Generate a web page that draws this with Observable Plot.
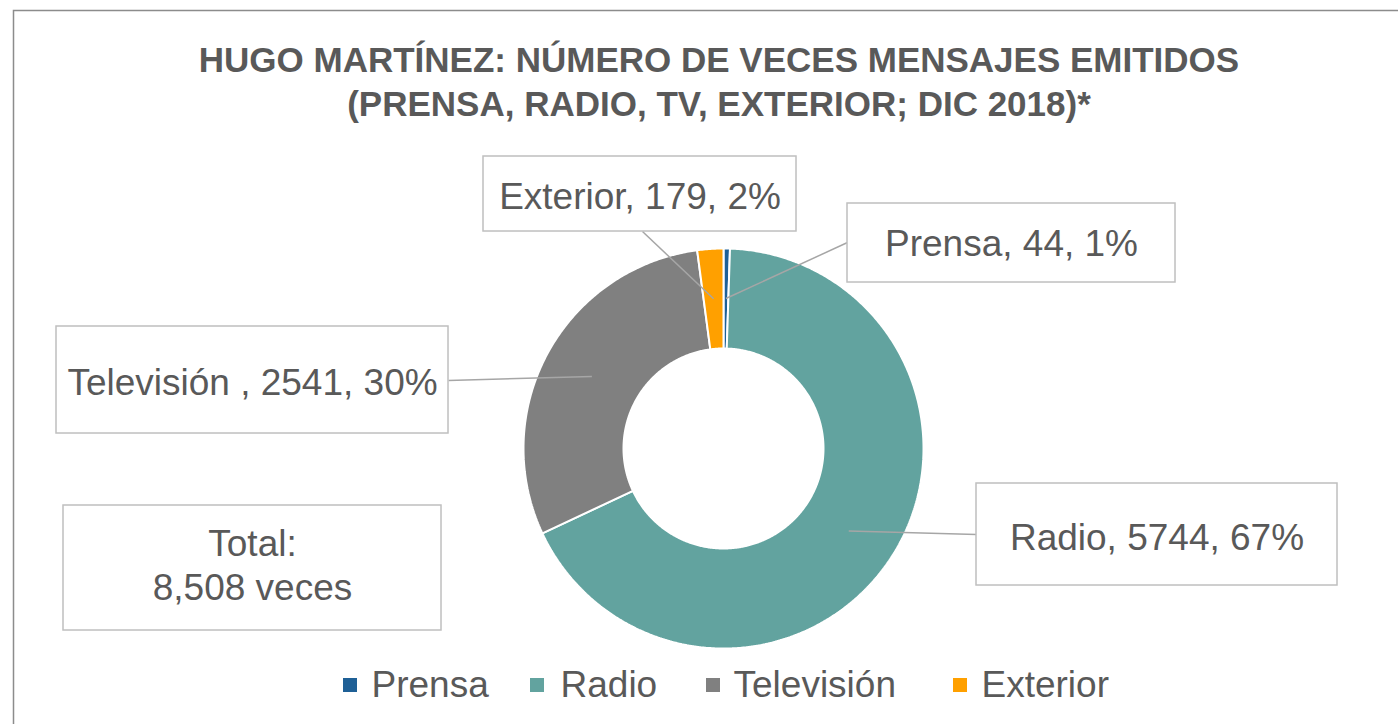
<!DOCTYPE html>
<html>
<head>
<meta charset="utf-8">
<script src="https://cdn.jsdelivr.net/npm/d3@7"></script>
<script src="https://cdn.jsdelivr.net/npm/@observablehq/plot@0.6"></script>
<style>
  body { margin: 0; background: #fff; }
  #chart svg { display: block; }
</style>
</head>
<body>
<div id="chart"></div>
<script>
// ---- data ----
const categories = ["Prensa", "Radio", "Televisión ", "Exterior"];
const values = [44, 5744, 2541, 179];
const percentLabels = ["1%", "67%", "30%", "2%"];
const totalLabel = ["Total:", "8,508 veces"];
const titleLines = ["HUGO MARTÍNEZ: NÚMERO DE VECES MENSAJES EMITIDOS", "(PRENSA, RADIO, TV, EXTERIOR; DIC 2018)*"];

// ---- styles / layout ----
const colors = ["#1f6096", "#62a39f", "#808080", "#ffa000"];
const textColor = "#595959";
const font = "'Liberation Sans', Arial, sans-serif";
const ring = {cx: 723, cy: 448, rOuter: 200, rInner: 100, rLabel: 150};
const labelBoxes = [
  {x1: 847, x2: 1175, y1: 203, y2: 282, tx: 1011, ty: 244, ax: 847, ay: 242},
  {x1: 976, x2: 1337, y1: 483, y2: 585, tx: 1156.5, ty: 538, ax: 976, ay: 534},
  {x1: 56, x2: 448, y1: 326, y2: 433, tx: 252, ty: 383, ax: 448, ay: 380},
  {x1: 483, x2: 796, y1: 156, y2: 231, tx: 639.5, ty: 197, ax: 642, ay: 231}
];
const totalBox = {x1: 63, x2: 441, y1: 505, y2: 630, tx: 252, ty: 563};
const legendPos = [{sx: 343, tx: 371}, {sx: 530, tx: 560}, {sx: 706, tx: 733}, {sx: 953, tx: 981}];
const legendY = {y1: 678, y2: 692, ty: 685, size: 14};
const frameBox = {x1: 13.5, y1: 10.5, x2: 1420, y2: 760};

// ---- geometry from data ----
const arcs = d3.pie().sort(null).startAngle(0).endAngle(2 * Math.PI)(values);
const pt = (a, r) => ({x: ring.cx + r * Math.sin(a), y: ring.cy - r * Math.cos(a)});
function slicePolygon(a0, a1) {
  const n = Math.max(2, Math.ceil((a1 - a0) / (Math.PI / 360)));
  const pts = [];
  for (let i = 0; i <= n; i++) pts.push(pt(a0 + (a1 - a0) * i / n, ring.rOuter));
  for (let i = n; i >= 0; i--) pts.push(pt(a0 + (a1 - a0) * i / n, ring.rInner));
  pts.push(pts[0]);
  return pts;
}
const slices = arcs.map((a, i) => ({i, points: slicePolygon(a.startAngle, a.endAngle)}));
const labels = arcs.map((a, i) => {
  const c = pt((a.startAngle + a.endAngle) / 2, ring.rLabel);
  const b = labelBoxes[i];
  return {...b, cx0: c.x, cy0: c.y, text: `${categories[i]}, ${values[i]}, ${percentLabels[i]}`};
});
const legend = categories.map((c, i) => ({name: c.trim(), color: colors[i], ...legendPos[i]}));

const chart = Plot.plot({
  width: 1398,
  height: 724,
  margin: 0,
  x: {domain: [0, 1398], range: [0, 1398], axis: null},
  y: {domain: [0, 724], range: [0, 724], axis: null},
  style: {fontFamily: font, background: "white", overflow: "hidden"},
  marks: [
    Plot.rect([frameBox], {x1: "x1", x2: "x2", y1: "y1", y2: "y2", fill: "none", stroke: "#8c8c8c", strokeWidth: 1.5}),
    Plot.text([titleLines.join("\n")], {x: () => 718.5, y: () => 79, text: d => d, fontSize: 35, fontWeight: "bold", fill: textColor, lineHeight: 1.257}),
    ...slices.map(s => Plot.line(s.points, {x: "x", y: "y", fill: colors[s.i], stroke: "white", strokeWidth: 2, strokeLinejoin: "miter"})),
    Plot.link(labels, {x1: "cx0", y1: "cy0", x2: "ax", y2: "ay", stroke: "#a6a6a6", strokeWidth: 1.5}),
    Plot.rect(labels, {x1: "x1", x2: "x2", y1: "y1", y2: "y2", fill: "white", stroke: "#bfbfbf", strokeWidth: 1.5}),
    Plot.text(labels, {x: "tx", y: "ty", text: "text", fontSize: 37, fill: textColor}),
    Plot.rect([totalBox], {x1: "x1", x2: "x2", y1: "y1", y2: "y2", fill: "white", stroke: "#bfbfbf", strokeWidth: 1.5}),
    Plot.text([totalLabel.join("\n")], {x: () => totalBox.tx, y: () => totalBox.ty, text: d => d, fontSize: 37, fill: textColor, lineHeight: 1.19}),
    Plot.rect(legend, {x1: "sx", x2: d => d.sx + legendY.size, y1: () => legendY.y1, y2: () => legendY.y2, fill: "color"}),
    Plot.text(legend, {x: "tx", y: () => legendY.ty, text: "name", textAnchor: "start", fontSize: 37, fill: textColor})
  ],
  color: {type: "identity"}
});
document.getElementById("chart").appendChild(chart);
</script>
</body>
</html>
